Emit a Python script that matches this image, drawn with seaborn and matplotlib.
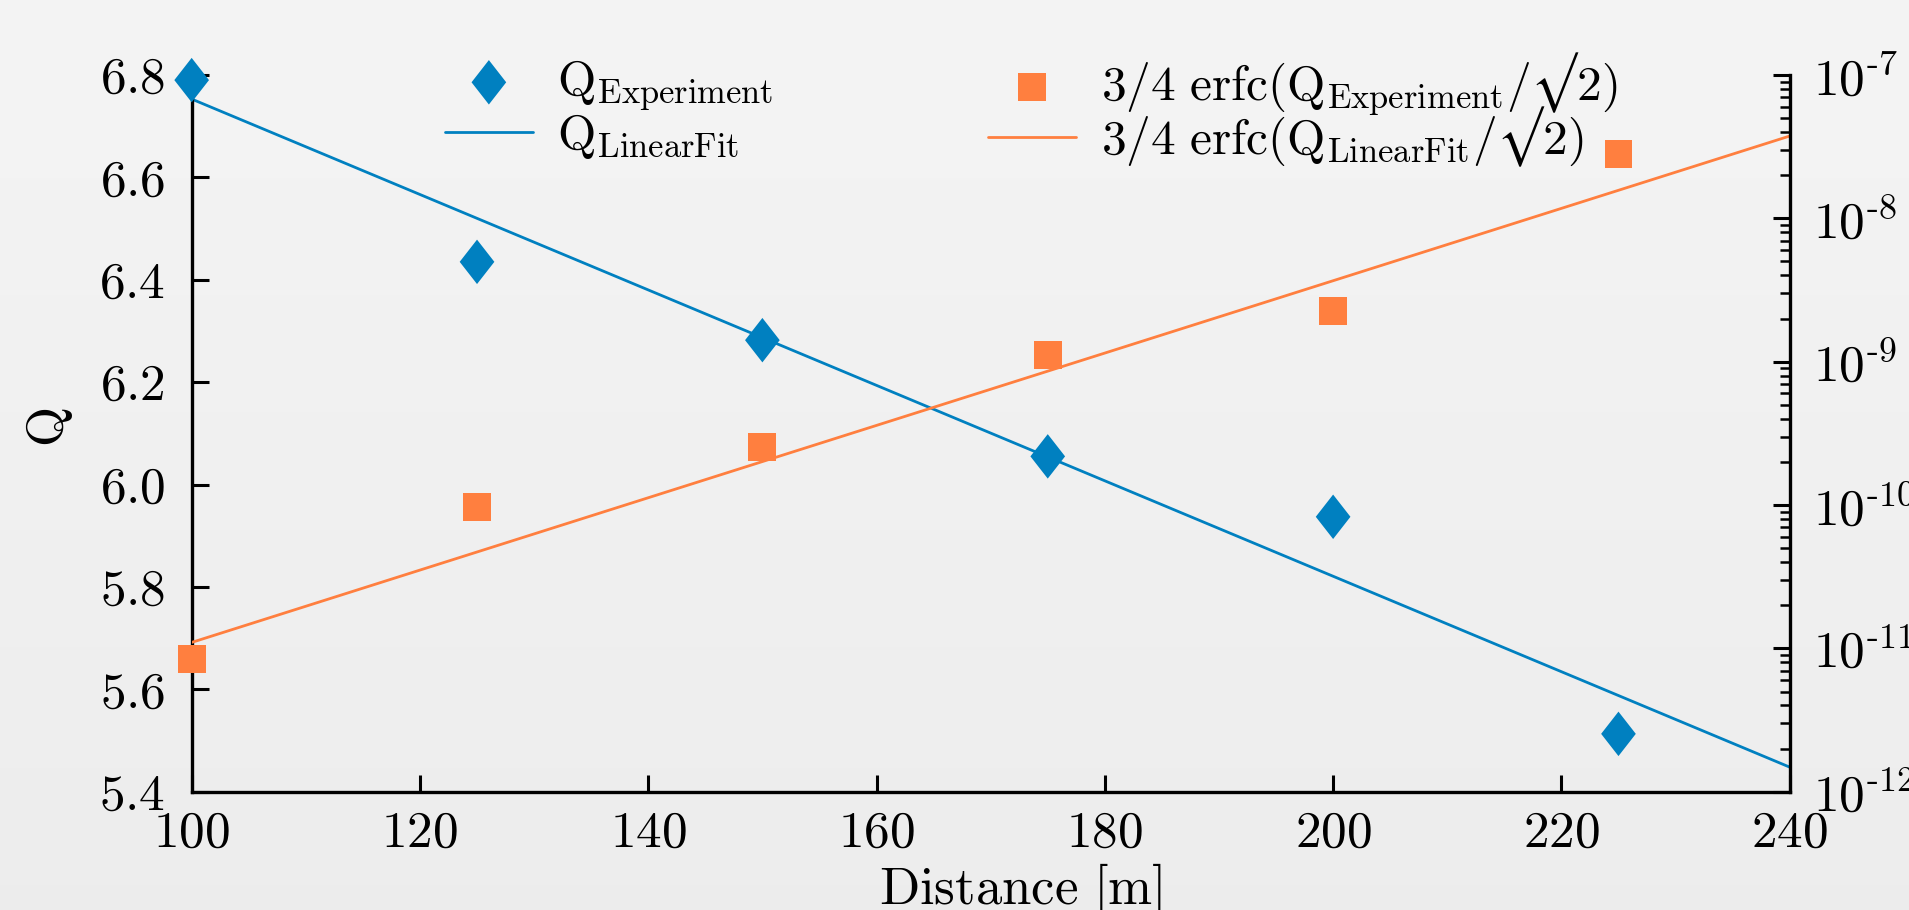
import numpy as np
import pandas as pd
import matplotlib
matplotlib.use('Agg')
import matplotlib.pyplot as plt
import matplotlib.ticker as mticker
import seaborn as sns

# values
distance = [100, 125, 150, 175, 200, 225]
q_experiment = [6.79, 6.435, 6.282, 6.055, 5.937, 5.513]
ber_experiment = [8.4e-12, 9.7e-11, 2.55e-10, 1.12e-9, 2.25e-9, 2.8e-8]

fit_distance = [100, 240]
q_fit = [6.753, 5.448]
ber_fit = [1.1e-11, 3.75e-8]

x_ticks = [100, 120, 140, 160, 180, 200, 220, 240]
q_ticks = [5.4, 5.6, 5.8, 6.0, 6.2, 6.4, 6.6, 6.8]
ber_exponents = [-12, -11, -10, -9, -8, -7]

blue = '#0080c0'
orange = '#ff7f3f'

sns.set_style('ticks')
plt.rcParams['font.family'] = ['cmr10', 'DejaVu Serif']
plt.rcParams['mathtext.fontset'] = 'cm'
plt.rcParams['axes.unicode_minus'] = False
plt.rcParams['axes.formatter.use_mathtext'] = True
for key in ('text.color', 'axes.labelcolor', 'xtick.color', 'ytick.color', 'axes.edgecolor'):
    plt.rcParams[key] = 'black'

exp_df = pd.DataFrame({'distance': distance, 'q': q_experiment, 'ber': ber_experiment})
fit_df = pd.DataFrame({'distance': fit_distance, 'q': q_fit, 'ber': ber_fit})

fig = plt.figure(figsize=(19.09, 9.10), dpi=100, facecolor='#efefef')

# soft grey gradient behind everything
bg = fig.add_axes([0, 0, 1, 1], zorder=-10)
bg.imshow(np.linspace(0.955, 0.925, 256).reshape(-1, 1), cmap='gray', vmin=0, vmax=1,
          aspect='auto', extent=[0, 1, 0, 1])
bg.axis('off')

ax = fig.add_axes([0.1004, 0.130, 0.9375 - 0.1004, 0.9176 - 0.130])
ax.set_facecolor('none')
ax2 = ax.twinx()

diamond = [(0, 0.5), (0.39, 0), (0, -0.5), (-0.39, 0)]

# Q on the left axis
sns.scatterplot(data=exp_df, x='distance', y='q', ax=ax, marker=diamond, s=32**2,
                color=blue, edgecolor='none', clip_on=False, zorder=3,
                label=r'$\mathrm{Q_{Experiment}}$')
sns.lineplot(data=fit_df, x='distance', y='q', ax=ax, color=blue, linewidth=2.0,
             label=r'$\mathrm{Q_{LinearFit}}$')

# BER on the right (log) axis
sns.scatterplot(data=exp_df, x='distance', y='ber', ax=ax2, marker='s', s=20**2,
                color=orange, edgecolor='none', clip_on=False, zorder=3,
                label='$\\mathrm{3/4\\ erfc(Q_{Experiment}/\u221a2)}$')
sns.lineplot(data=fit_df, x='distance', y='ber', ax=ax2, color=orange, linewidth=2.0,
             label='$\\mathrm{3/4\\ erfc(Q_{LinearFit}/\u221a2)}$')

ax.set_xlim(100, 240)
ax.set_ylim(5.4, 6.8)
ax2.set_yscale('log')
ax2.set_ylim(1e-12, 1e-7)

fs = 37
lfs = 35.5
ax.set_xticks(x_ticks)
ax.set_xticklabels([f'${t}$' for t in x_ticks], fontsize=fs)
ax.set_yticks(q_ticks)
ax.set_yticklabels([f'${t:.1f}$' for t in q_ticks], fontsize=fs)
ax2.set_yticks([10.0 ** e for e in ber_exponents])
ax2.set_yticklabels([r'$10^{\text{-}%d}$' % (-e) for e in ber_exponents], fontsize=fs)
ax2.yaxis.set_minor_locator(mticker.LogLocator(base=10, subs=np.arange(2, 10)))
ax2.yaxis.set_minor_formatter(mticker.NullFormatter())

ax.tick_params(axis='both', direction='in', length=12.5, width=2.2, pad=19)
ax.tick_params(axis='x', pad=14)
ax2.tick_params(axis='y', which='major', direction='in', length=12.5, width=2.2, pad=17)
ax2.tick_params(axis='y', which='minor', direction='in', length=7, width=1.8)

for a in (ax, ax2):
    a.spines['top'].set_visible(False)
    for side in ('left', 'right', 'bottom'):
        a.spines[side].set_linewidth(2.4)
ax.spines['right'].set_visible(False)
ax2.spines['left'].set_visible(False)
ax2.spines['bottom'].set_visible(False)

ax.set_xlabel(r'$\mathrm{Distance\ [m]}$', fontsize=38)
ax.set_ylabel(r'$\mathrm{Q}$', fontsize=fs)
ax2.set_ylabel('')
ax.xaxis.set_label_coords(0.519, -0.097)
ax.yaxis.set_label_coords(-0.073, 0.509)

legend_kw = dict(loc='upper left', bbox_transform=fig.transFigure, frameon=False,
                 borderpad=0, borderaxespad=0, handlelength=1.78, handletextpad=0.5,
                 fontsize=lfs)
h1, l1 = ax.get_legend_handles_labels()
ax.legend(h1, l1, bbox_to_anchor=(0.2331, 0.936), labelspacing=-0.02, **legend_kw)
h2, l2 = ax2.get_legend_handles_labels()
ax2.legend(h2, l2, bbox_to_anchor=(0.5176, 0.945), labelspacing=-0.26, **legend_kw)

fig.savefig('out.png', dpi=100, facecolor=fig.get_facecolor())
